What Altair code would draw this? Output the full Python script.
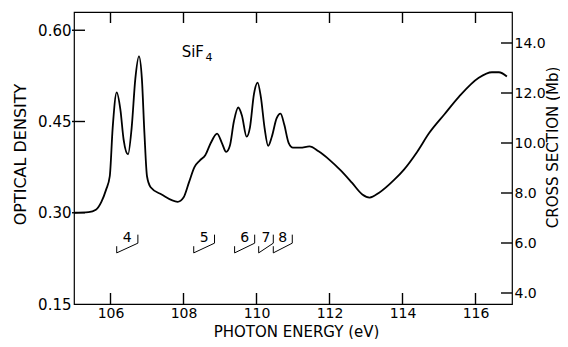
import altair as alt
import pandas as pd

# ---- curve (photon energy in eV, optical density) ----
energy = [105.0, 105.4, 105.6, 105.75, 105.88, 105.98, 106.06, 106.17, 106.27, 106.36,
          106.48, 106.58, 106.68, 106.78, 106.86, 106.93, 107.0, 107.1, 107.4, 107.84,
          108.0, 108.15, 108.3, 108.45, 108.6, 108.75, 108.92, 109.05, 109.17, 109.27,
          109.38, 109.5, 109.6, 109.73, 109.82, 109.93, 110.03, 110.12, 110.22, 110.32,
          110.42, 110.55, 110.66, 110.76, 110.88, 111.0, 111.2, 111.45, 111.7, 112.0,
          112.3, 112.62, 112.9, 113.1, 113.36, 113.77, 114.04, 114.4, 114.73, 115.15,
          115.55, 116.09, 116.45, 116.64, 116.86]
density = [0.300, 0.301, 0.305, 0.318, 0.338, 0.360, 0.440, 0.498, 0.470, 0.420,
           0.396, 0.440, 0.520, 0.557, 0.520, 0.430, 0.360, 0.342, 0.330, 0.318,
           0.325, 0.350, 0.375, 0.386, 0.395, 0.415, 0.430, 0.415, 0.400, 0.410,
           0.450, 0.473, 0.460, 0.425, 0.440, 0.495, 0.514, 0.490, 0.440, 0.410,
           0.425, 0.455, 0.463, 0.445, 0.415, 0.407, 0.407, 0.409, 0.401, 0.387,
           0.370, 0.349, 0.330, 0.325, 0.333, 0.354, 0.371, 0.400, 0.431, 0.462,
           0.491, 0.522, 0.531, 0.531, 0.524]

# ---- Rydberg series brackets ----
bracket_labels = ["4", "5", "6", "7", "8"]
bracket_left = [106.17, 108.28, 109.40, 110.06, 110.46]
bracket_right = [106.75, 108.85, 109.95, 110.46, 110.98]

# ---- axes ----
x_ticks = [106, 108, 110, 112, 114, 116]
od_ticks = [0.15, 0.30, 0.45, 0.60]
cs_ticks = [4.0, 6.0, 8.0, 10.0, 12.0, 14.0]

X_DOM = [105, 117]
OD_DOM = [0.15, 0.63]
CS_DOM = [3.56, 15.24]
FONT = "DejaVu Sans"
W, H = 438, 292
TICK = 11  # px
tick_od = TICK * (OD_DOM[1] - OD_DOM[0]) / H
TICK_COLOR = "black"
TICK_W = 1.4

xs = alt.Scale(domain=X_DOM, nice=False, zero=False)
ods = alt.Scale(domain=OD_DOM, nice=False, zero=False)
css = alt.Scale(domain=CS_DOM, nice=False, zero=False)

x_axis = alt.Axis(values=x_ticks, format="d", ticks=False, domain=False, grid=False,
                  labelFontSize=14, labelPadding=2, labelFont=FONT, labelColor="black",
                  title="PHOTON ENERGY (eV)", titleFont=FONT, titleFontSize=15,
                  titleFontWeight="normal", titleColor="black", titleX=222, titleY=27,
                  titleBaseline="middle", titleAlign="center")
od_axis = alt.Axis(values=od_ticks, format=".2f", ticks=False, domain=False, grid=False,
                   labelFontSize=15, labelPadding=3, labelFont=FONT, labelColor="black",
                   title="OPTICAL DENSITY", titleFont=FONT, titleFontSize=16,
                   titleFontWeight="normal", titleColor="black", titleAngle=270,
                   titleX=-54, titleY=142, titleBaseline="middle", titleAlign="center")
cs_axis = alt.Axis(values=cs_ticks, format=".1f", ticks=False, domain=False, grid=False,
                   orient="right", labelFontSize=14, labelPadding=2, labelFont=FONT,
                   labelColor="black", title="CROSS SECTION (Mb)", titleFont=FONT,
                   titleFontSize=15, titleFontWeight="normal", titleColor="black",
                   titleAngle=270, titleX=40, titleY=135, titleBaseline="middle",
                   titleAlign="center")

X = lambda f="E": alt.X(f"{f}:Q", scale=xs, axis=x_axis)
Y = lambda f="OD": alt.Y(f"{f}:Q", scale=ods, axis=od_axis)

curve_df = pd.DataFrame({"E": energy, "OD": density})
curve = alt.Chart(curve_df).mark_line(color="black", strokeWidth=1.8,
                                      interpolate="monotone").encode(x=X(), y=Y())

# inside ticks: positions from the tick lists through the scales
bt_df = pd.DataFrame({"E": x_ticks, "OD": [OD_DOM[0]] * len(x_ticks),
                      "OD2": [OD_DOM[0] + tick_od] * len(x_ticks)})
bottom_ticks = alt.Chart(bt_df).mark_rule(color=TICK_COLOR, strokeWidth=TICK_W).encode(
    x=X(), y=Y(), y2="OD2:Q")
xt_df = pd.DataFrame({"E": x_ticks})
top_ticks = alt.Chart(xt_df).mark_rule(color=TICK_COLOR, strokeWidth=TICK_W).encode(
    x=X(), y=alt.value(0), y2=alt.value(TICK))
odt_df = pd.DataFrame({"OD": od_ticks[1:]})
left_ticks = alt.Chart(odt_df).mark_rule(color=TICK_COLOR, strokeWidth=TICK_W).encode(
    y=Y(), x=alt.value(-2), x2=alt.value(TICK))

# brackets
segs = []
for lab, l, r in zip(bracket_labels, bracket_left, bracket_right):
    segs.append({"E": l, "E2": l, "OD": 0.234, "OD2": 0.245})
    segs.append({"E": l, "E2": r, "OD": 0.234, "OD2": 0.250})
    segs.append({"E": r, "E2": r, "OD": 0.250, "OD2": 0.264})
seg_df = pd.DataFrame(segs)
brackets = alt.Chart(seg_df).mark_rule(color="black", strokeWidth=1).encode(
    x=X(), x2="E2:Q", y=Y(), y2="OD2:Q")
lab_df = pd.DataFrame({"label": bracket_labels,
                       "E": [(a + b) / 2 for a, b in zip(bracket_left, bracket_right)],
                       "OD": [0.258] * len(bracket_labels)})
labels = alt.Chart(lab_df).mark_text(font=FONT, fontSize=14, color="black",
                                     baseline="middle", align="center").encode(
    x=X(), y=Y(), text="label:N")

# compound name
name_df = pd.DataFrame({"E": [107.95, 108.6], "OD": [0.565, 0.555],
                        "t": ["SiF", "4"], "s": [15, 11]})
name = alt.Chart(name_df).mark_text(font=FONT, color="black", baseline="middle",
                                    align="left").encode(
    x=X(), y=Y(), text="t:N",
    size=alt.Size("s:Q", scale=None, legend=None))

left_layer = alt.layer(curve, bottom_ticks, top_ticks, left_ticks, brackets, labels, name)

cst_df = pd.DataFrame({"CS": cs_ticks})
right_ticks = alt.Chart(cst_df).mark_rule(color=TICK_COLOR, strokeWidth=TICK_W).encode(
    y=alt.Y("CS:Q", scale=css, axis=cs_axis),
    x=alt.value(W - TICK), x2=alt.value(W))

chart = alt.layer(left_layer, right_ticks).resolve_scale(y="independent").properties(
    width=W, height=H,
    autosize=alt.AutoSizeParams(type="none"),
    padding={"left": 66, "top": 4, "right": 48, "bottom": 35},
    background="white",
).configure_view(stroke="black", strokeWidth=1.2)

chart.save("out.html", embed_options={"renderer": "svg", "actions": False})
